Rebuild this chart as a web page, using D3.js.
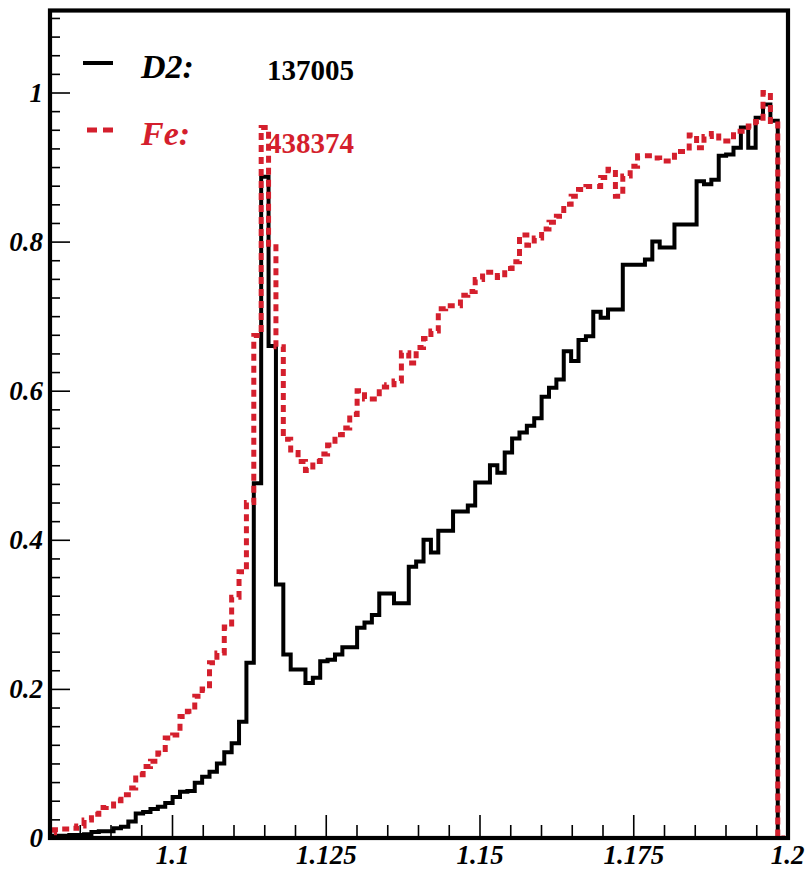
<!DOCTYPE html>
<html><head><meta charset="utf-8">
<script src="https://cdn.jsdelivr.net/npm/d3@7"></script>
<style>html,body{margin:0;padding:0;background:#fff;} svg{display:block;}</style>
</head><body>
<svg id="chart" width="808" height="871"></svg>
<script>
// Histogram binning (100 bins)
const binStart = 1.0797, binWidth = 0.0012;

const d2Values = [
0.003,0.003,0.003,0.004,0.004,0.005,0.008,0.009,0.009,0.013,
0.015,0.022,0.033,0.035,0.039,0.042,0.047,0.055,0.062,0.063,
0.074,0.082,0.089,0.100,0.115,0.127,0.156,0.235,0.476,0.887,
0.660,0.340,0.246,0.226,0.226,0.208,0.215,0.237,0.239,0.246,
0.256,0.256,0.282,0.289,0.299,0.328,0.328,0.315,0.315,0.364,
0.371,0.400,0.383,0.412,0.412,0.438,0.438,0.446,0.477,0.477,
0.500,0.490,0.517,0.536,0.544,0.553,0.563,0.592,0.604,0.615,
0.653,0.640,0.668,0.673,0.706,0.698,0.709,0.709,0.769,0.769,
0.769,0.776,0.800,0.792,0.792,0.823,0.823,0.823,0.881,0.877,
0.883,0.915,0.917,0.926,0.953,0.926,0.966,0.984,0.962,0
];

const feValues = [
0.007,0.011,0.012,0.013,0.016,0.024,0.032,0.041,0.043,0.050,
0.058,0.067,0.085,0.096,0.103,0.114,0.134,0.138,0.163,0.170,
0.190,0.200,0.235,0.248,0.283,0.323,0.357,0.450,0.674,0.953,
0.793,0.659,0.535,0.517,0.505,0.493,0.505,0.515,0.527,0.541,
0.550,0.568,0.600,0.589,0.589,0.605,0.608,0.613,0.651,0.637,
0.658,0.670,0.680,0.710,0.714,0.714,0.728,0.733,0.749,0.759,
0.759,0.752,0.764,0.773,0.809,0.795,0.805,0.817,0.826,0.834,
0.850,0.861,0.870,0.874,0.874,0.886,0.897,0.861,0.888,0.901,
0.915,0.915,0.912,0.908,0.908,0.921,0.921,0.943,0.926,0.941,
0.945,0.935,0.935,0.948,0.948,0.955,0.961,1.000,0.961,0
];

const xTickValues = [1.1, 1.125, 1.15, 1.175, 1.2];
const xTickLabels = ["1.1", "1.125", "1.15", "1.175", "1.2"];
const yTickValues = [0, 0.2, 0.4, 0.6, 0.8, 1];
const yTickLabels = ["0", "0.2", "0.4", "0.6", "0.8", "1"];
const legendNames = ["D2:", "Fe:"];
const legendCounts = ["137005", "438374"];

const RED = "#d41f2d";
const svg = d3.select("#chart");
const x = d3.scaleLinear().domain([1.08, 1.2]).range([49, 787]);
const y = d3.scaleLinear().domain([0, 1.11]).range([838, 10.5]);

svg.append("defs").append("clipPath").attr("id", "plot")
  .append("rect").attr("x", x(1.08)).attr("y", y(1.11))
  .attr("width", x(1.2) - x(1.08)).attr("height", y(0) - y(1.11));

function histPoints(vals) {
  const pts = [[binStart, 0]];
  vals.forEach((v, i) => {
    const lo = binStart + i * binWidth, hi = lo + binWidth;
    pts.push([lo, v], [hi, v]);
  });
  pts.push([binStart + vals.length * binWidth, 0]);
  return pts;
}
const line = d3.line().x(d => x(d[0])).y(d => y(d[1]));

const g = svg.append("g").attr("clip-path", "url(#plot)");
g.append("path").attr("d", line(histPoints(d2Values)))
  .attr("fill", "none").attr("stroke", "#000").attr("stroke-width", 4)
  .attr("stroke-linejoin", "miter");
g.append("path").attr("d", line(histPoints(feValues)))
  .attr("fill", "none").attr("stroke", RED).attr("stroke-width", 5)
  .attr("stroke-dasharray", "7,5");

const labelFont = "'Liberation Serif', 'DejaVu Serif', serif";

// X axis
const xMinor = d3.range(1.085, 1.2, 0.005).filter(v => !xTickValues.some(t => Math.abs(t - v) < 1e-6));
const xMin = svg.append("g").attr("transform", `translate(0,${y(0)})`)
  .call(d3.axisBottom(x).tickValues(xMinor).tickSize(-13).tickFormat(""));
const xMaj = svg.append("g").attr("transform", `translate(0,${y(0)})`)
  .call(d3.axisBottom(x).tickValues(xTickValues).tickSize(-23).tickPadding(7)
    .tickFormat((d, i) => xTickLabels[i]));
// Y axis
const yMinor = d3.range(0.025, 1.11, 0.025).filter(v => !yTickValues.some(t => Math.abs(t - v) < 1e-6));
const yMin = svg.append("g").attr("transform", `translate(${x(1.08)},0)`)
  .call(d3.axisLeft(y).tickValues(yMinor).tickSize(-11).tickFormat(""));
const yMaj = svg.append("g").attr("transform", `translate(${x(1.08)},0)`)
  .call(d3.axisLeft(y).tickValues(yTickValues).tickSize(-21).tickPadding(6)
    .tickFormat((d, i) => yTickLabels[i]));

[xMin, xMaj, yMin, yMaj].forEach(a => {
  a.select(".domain").remove();
  a.selectAll(".tick line").attr("stroke", "#000").attr("stroke-width", 1.6);
  a.selectAll(".tick text").attr("fill", "#000")
    .style("font-family", labelFont).style("font-size", "27px")
    .style("font-weight", "bold").style("font-style", "italic");
});

// Frame
svg.append("rect").attr("x", 50).attr("y", 10.5).attr("width", 738).attr("height", 827.5)
  .attr("fill", "none").attr("stroke", "#000").attr("stroke-width", 4.2);

// Legend
const leg = svg.append("g");
leg.append("line").attr("x1", 83).attr("x2", 113).attr("y1", 63).attr("y2", 63)
  .attr("stroke", "#000").attr("stroke-width", 4);
leg.append("line").attr("x1", 87).attr("x2", 114).attr("y1", 130).attr("y2", 130)
  .attr("stroke", RED).attr("stroke-width", 5).attr("stroke-dasharray", "10,6");
const legColors = ["#000", RED];
const nameY = [78, 145], countY = [80, 153];
legendNames.forEach((n, i) => {
  leg.append("text").attr("x", 141).attr("y", nameY[i]).text(n)
    .attr("fill", legColors[i]).style("font-family", labelFont)
    .style("font-size", "34px").style("font-weight", "bold").style("font-style", "italic");
  leg.append("text").attr("x", 267).attr("y", countY[i]).text(legendCounts[i])
    .attr("fill", legColors[i]).style("font-family", labelFont)
    .style("font-size", "29px").style("font-weight", "bold");
});
</script>
</body></html>
